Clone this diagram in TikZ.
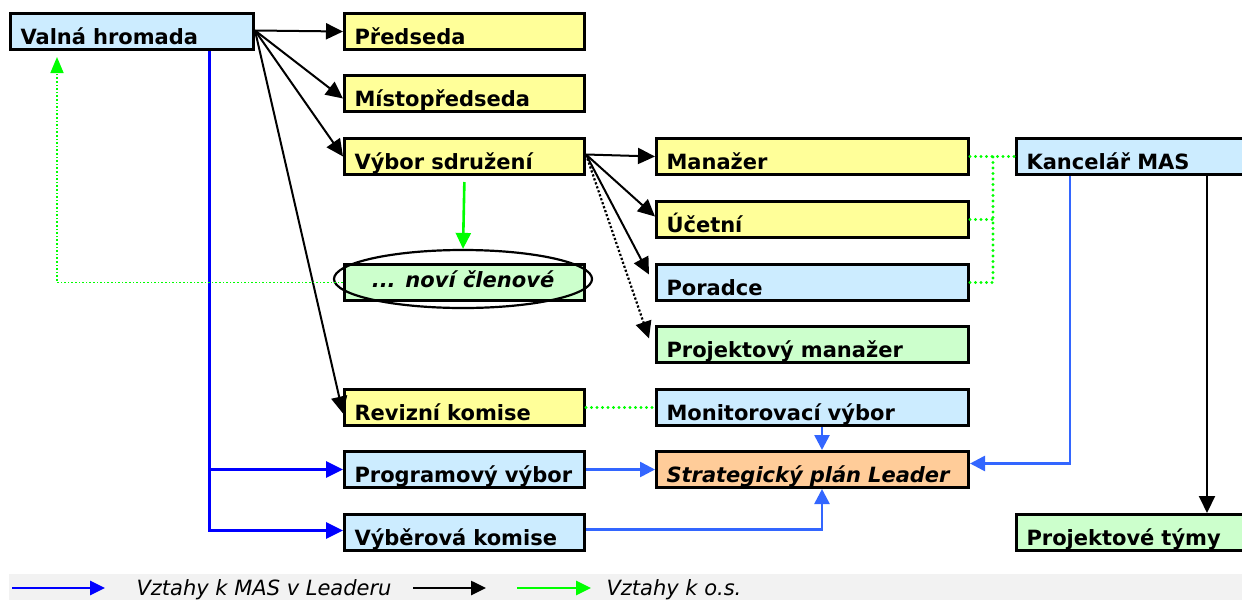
\documentclass[tikz,border=0pt]{standalone}
\usepackage{fontspec}
\setmainfont{DejaVu Sans}
\usetikzlibrary{arrows.meta,shapes.geometric}
\definecolor{pblue}{HTML}{CCECFF}
\definecolor{pyel}{HTML}{FFFF99}
\definecolor{pgrn}{HTML}{CCFFCC}
\definecolor{porg}{HTML}{FFCC99}
\definecolor{lnblue}{HTML}{0000FF}
\definecolor{lnlblue}{HTML}{3366FF}
\definecolor{lngreen}{HTML}{00FF00}
\definecolor{legbg}{HTML}{F2F2F2}
\begin{document}
\begin{tikzpicture}[x=1pt,y=-1pt,
  box/.style={draw=black, line width=3pt, anchor=north west, inner xsep=10pt, inner ysep=0pt,
    text height=31pt, text depth=5pt, align=left, font=\fontsize{21}{24}\selectfont\bfseries},
  wa/.style={text width=220pt},
  wb/.style={text width=292pt},
  wc/.style={text width=215pt},
  tip/.style={-{Triangle[length=17pt,width=16pt]}},
  blk/.style={tip, draw=black, line width=2pt},
  blkdot/.style={tip, draw=black, line width=2.2pt, dotted},
  bl/.style={tip, draw=lnblue, line width=3pt},
  lbl/.style={-{Triangle[length=15pt,width=15pt]}, draw=lnlblue, line width=2.6pt},
  gdot/.style={draw=lngreen, line width=1.6pt, dotted},
  gdotb/.style={draw=lngreen, line width=3.2pt, line cap=round, dash pattern=on 0pt off 5.5pt},
  leg/.style={font=\fontsize{21}{24}\selectfont\itshape, anchor=base west}
]
\useasboundingbox (0,0) rectangle (1242,600);
% legend background
\fill[legbg] (9,574) rectangle (1242,600);

% column 1
\node[box, fill=pblue, text width=223pt] (vh) at (9,12) {Valná hromada};
\node[box, wa, fill=pyel] (pred) at (343,12) {Předseda};
\node[box, wa, fill=pyel] (mist) at (343,74) {Místopředseda};
\node[box, wa, fill=pyel] (vs) at (343,137) {Výbor sdružení};
\node[box, wa, fill=pgrn] (nc) at (343,263) {};
\node[draw=black, line width=2.2pt, ellipse, minimum width=230pt, minimum height=58pt, inner sep=0pt,
  font=\fontsize{21}{24}\selectfont\bfseries\itshape] (ell) at (463,279) {\raisebox{-5pt}{... noví členové}};
\node[box, wa, fill=pyel] (rev) at (343,388) {Revizní komise};
\node[box, wa, fill=pblue] (prog) at (343,450) {Programový výbor};
\node[box, wa, fill=pblue] (vyb) at (343,513) {Výběrová komise};

% column 2
\node[box, wb, fill=pyel] (man) at (655,137) {Manažer};
\node[box, wb, fill=pyel] (uc) at (655,200) {Účetní};
\node[box, wb, fill=pblue] (por) at (655,263) {Poradce};
\node[box, wb, fill=pgrn] (pm) at (655,325) {Projektový manažer};
\node[box, wb, fill=pblue] (mon) at (655,388) {Monitorovací výbor};
\node[box, wb, fill=porg, font=\fontsize{21}{24}\selectfont\bfseries\itshape] (spl) at (655,450) {Strategický plán Leader};

% column 3
\node[box, wc, fill=pblue] (kan) at (1015,137) {Kancelář MAS};
\node[box, wc, fill=pgrn] (pt) at (1015,513) {Projektové týmy};

% helper coordinates
\coordinate (bx) at (209,0);
\coordinate (gx) at (57,0);
\coordinate (gx2) at (993,0);
\coordinate (sx) at (822,0);
\coordinate (kx) at (1070,0);
\coordinate (tx) at (1207,0);

% black arrows from Valná hromada
\draw[blk] ([yshift=1pt]vh.east) -- (pred.west);
\draw[blk] ([yshift=1pt]vh.east) -- ([yshift=-5pt]mist.west);
\draw[blk] ([yshift=1pt]vh.east) -- (vs.west);
\draw[blk] ([yshift=1pt]vh.east) -- ([yshift=-6pt]rev.west);

% blue from Valná hromada
\draw[bl] (vh.south -| bx) |- ([yshift=2pt]vyb.west);
\draw[bl] (prog.west -| bx) -- (prog.west);

% green
\draw[gdot, -{Triangle[length=16pt,width=13pt]}, shorten >=6pt] (nc.west) -| (vh.south -| gx);
\draw[draw=lngreen, line width=2.6pt, -{Triangle[length=16pt,width=15pt]}, shorten <=6pt] (vs.south) -- (ell.north);

% from Výbor sdružení
\draw[blk] ([yshift=2pt]vs.east) -- (man.west);
\draw[blk] ([yshift=2pt]vs.east) -- ([yshift=3pt]uc.west);
\draw[blk] ([yshift=2pt]vs.east) -- ([yshift=8pt,xshift=-6pt]por.west);
\draw[blkdot] ([yshift=2pt]vs.east) -- ([yshift=6pt,xshift=-6pt]pm.west);

% green dotted to Kancelář
\draw[gdotb] (man.east) -- (kan.west);
\draw[gdotb] (por.east) -| (man.east -| gx2);
\draw[gdotb] (uc.east) -- (uc.east -| gx2);
\draw[gdotb] (rev.east) -- (mon.west);

% light blue to Strategický plán
\draw[lbl] (mon.south -| sx) -- (spl.north -| sx);
\draw[lbl] (prog.east) -- (spl.west);
\draw[lbl] ([yshift=3pt]vyb.east) -| (spl.south -| sx);
\draw[lbl] (kan.south -| kx) |- ([yshift=6pt]spl.east);

% black to Projektové týmy
\draw[blk] (kan.south -| tx) -- (pt.north -| tx);

% legend
\coordinate (l1a) at (12,588);
\coordinate (l1b) at (105,588);
\coordinate (l2a) at (413,588);
\coordinate (l2b) at (486,588);
\coordinate (l3a) at (517,588);
\coordinate (l3b) at (591,588);
\draw[draw=lnblue, line width=2.8pt, -{Triangle[length=15pt,width=14pt]}] (l1a) -- (l1b);
\node[leg] (lt1) at (133,595) {Vztahy k MAS v Leaderu};
\draw[draw=black, line width=2.6pt, -{Triangle[length=15pt,width=14pt]}] (l2a) -- (l2b);
\draw[draw=lngreen, line width=2.8pt, -{Triangle[length=15pt,width=14pt]}] (l3a) -- (l3b);
\node[leg] (lt2) at (603,595) {Vztahy k o.s.};
\end{tikzpicture}
\end{document}
